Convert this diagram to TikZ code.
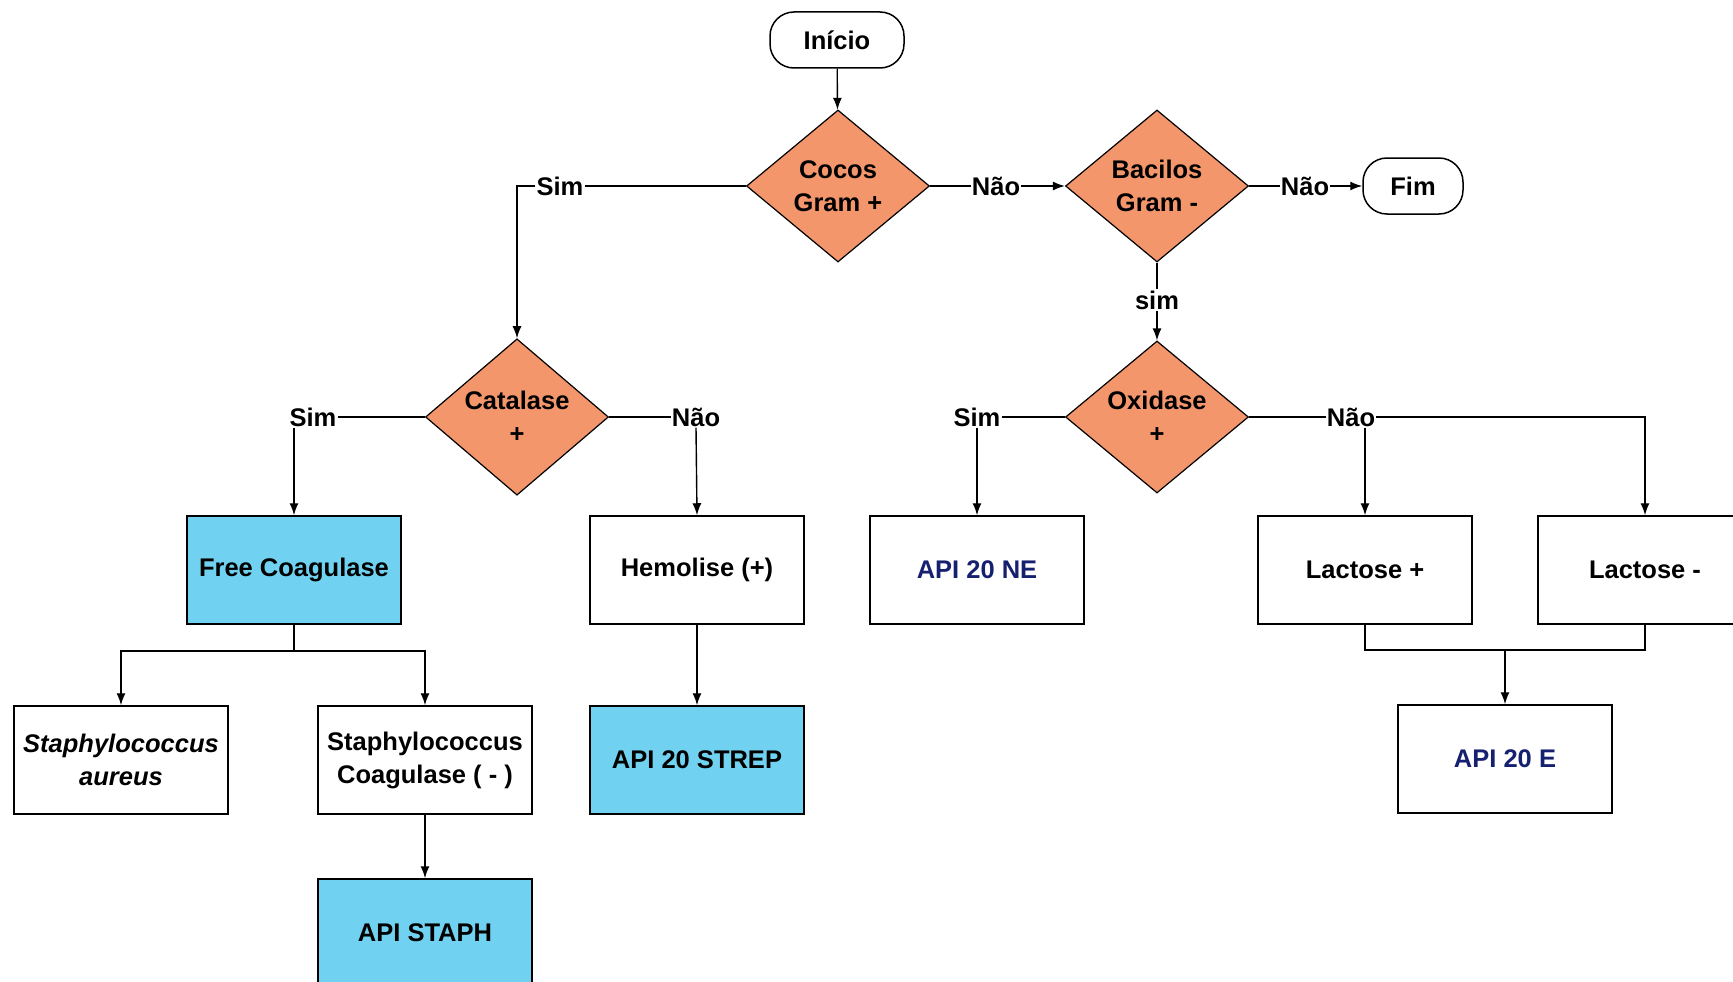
\documentclass[tikz,border=0pt]{standalone}
\usepackage{fontspec}
\setmainfont{Liberation Sans}
\usepackage{xcolor}
\usetikzlibrary{calc,
	positioning,
	shapes,
	arrows.meta}
\definecolor{laranja}{RGB}{243,150,108}
\definecolor{ciano}{RGB}{112,210,240}
\definecolor{azulapi}{RGB}{22,32,112}
\tikzstyle{txt}=[font=\fontsize{25.5}{33}\selectfont\bfseries, align=center]
\tikzstyle{term}=[txt, draw, line width=1.5pt, rounded corners=24pt,
		minimum width=134pt, minimum height=56pt]
\tikzstyle{dec}=[txt, draw, diamond, fill=laranja, line width=1.2pt,
		minimum width=183pt, minimum height=152pt, inner sep=0pt]
\tikzstyle{caixa}=[txt, draw, line width=1.5pt, minimum width=214pt,
		minimum height=108pt, inner sep=0pt]
\tikzstyle{api}=[caixa, fill=ciano]
\tikzstyle{rot}=[txt, fill=white, inner sep=1pt]
\tikzstyle{linha}=[line width=1.4pt]
\tikzstyle{seta}=[linha, -{Latex[length=12pt,width=9pt]}]

\begin{document}
\begin{tikzpicture}[x=1pt, y=-1pt]
	\useasboundingbox (0,0) rectangle (1733,982);
	\clip (0,0) rectangle (1733,982);
	% inicio e primeira decisao
	\node[term] (inicio) at (837,40) {Início};
	\node[dec] (cocos) at (838,186) {Cocos\\Gram +};
	\node[dec] (bacilos) at (1157,186) {Bacilos\\Gram -};
	\node[term, minimum width=100pt] (fim) at (1413,186) {Fim};
	\node[dec] (catalase) at (517,417) {Catalase\\+};
	\node[dec] (oxidase) at (1157,417) {Oxidase\\+};
	% caixas
	\node[api] (freecoag) at (294,570) {Free Coagulase};
	\node[caixa] (hemolise) at (697,570) {Hemolise (+)};
	\node[caixa, text=azulapi] (api20ne) at (977,570) {API 20 NE};
	\node[caixa] (lactpos) at (1365,570) {Lactose +};
	\node[caixa] (lactneg) at (1645,570) {Lactose -};
	\node[caixa] (aureus) at (121,760) {\itshape Staphylococcus\\\itshape aureus};
	\node[caixa] (staphneg) at (425,760) {Staphylococcus\\Coagulase ( - )};
	\node[api] (strep) at (697,760) {API 20 STREP};
	\node[api] (apistaph) at (425,933) {API STAPH};
	\node[caixa, text=azulapi] (api20e) at (1505,759) {API 20 E};
	% rotulos
	\node[rot] (simA) at (560,186) {Sim};
	\node[rot] (naoA) at (996,186) {Não};
	\node[rot] (naoF) at (1305,186) {Não};
	\node[rot] (simO) at (1157,300) {sim};
	\node[rot] (simB) at (313,417) {Sim};
	\node[rot] (naoB) at (696,417) {Não};
	\node[rot] (simC) at (977,417) {Sim};
	\node[rot] (naoC) at (1351,417) {Não};
	\coordinate (jA) at (294,651);
	\coordinate (jB) at (1505,650);
	% ligacoes
	\draw[seta] (inicio) -- (cocos);
	\draw[linha] (cocos.west) -- (simA.east);
	\draw[seta] (simA.west) -| (catalase.north);
	\draw[linha] (cocos.east) -- (naoA.west);
	\draw[seta] (naoA.east) -- (bacilos.west);
	\draw[linha] (bacilos.east) -- (naoF.west);
	\draw[seta] (naoF.east) -- (fim.west);
	\draw[linha] (bacilos.south) -- (simO.north);
	\draw[seta] (simO.south) -- (oxidase.north);
	\draw[linha] (catalase.west) -- (simB.east);
	\draw[seta] (freecoag.north |- simB.south) -- (freecoag.north);
	\draw[linha] (catalase.east) -- (naoB.west);
	\draw[seta] (naoB.south) -- (hemolise.north);
	\draw[linha] (oxidase.west) -- (simC.east);
	\draw[seta] (simC.south) -- (api20ne.north);
	\draw[linha] (oxidase.east) -- (naoC.west);
	\draw[seta] (naoC.east) -| (lactneg.north);
	\draw[seta] (lactpos.north |- naoC.south) -- (lactpos.north);
	\draw[linha] (freecoag.south) -- (jA);
	\draw[seta] (jA) -| (aureus.north);
	\draw[seta] (jA) -| (staphneg.north);
	\draw[seta] (hemolise) -- (strep);
	\draw[seta] (staphneg) -- (apistaph);
	\draw[linha] (lactpos.south) |- (jB) -| (lactneg.south);
	\draw[seta] (jB) -- (api20e.north);
\end{tikzpicture}
\end{document}
